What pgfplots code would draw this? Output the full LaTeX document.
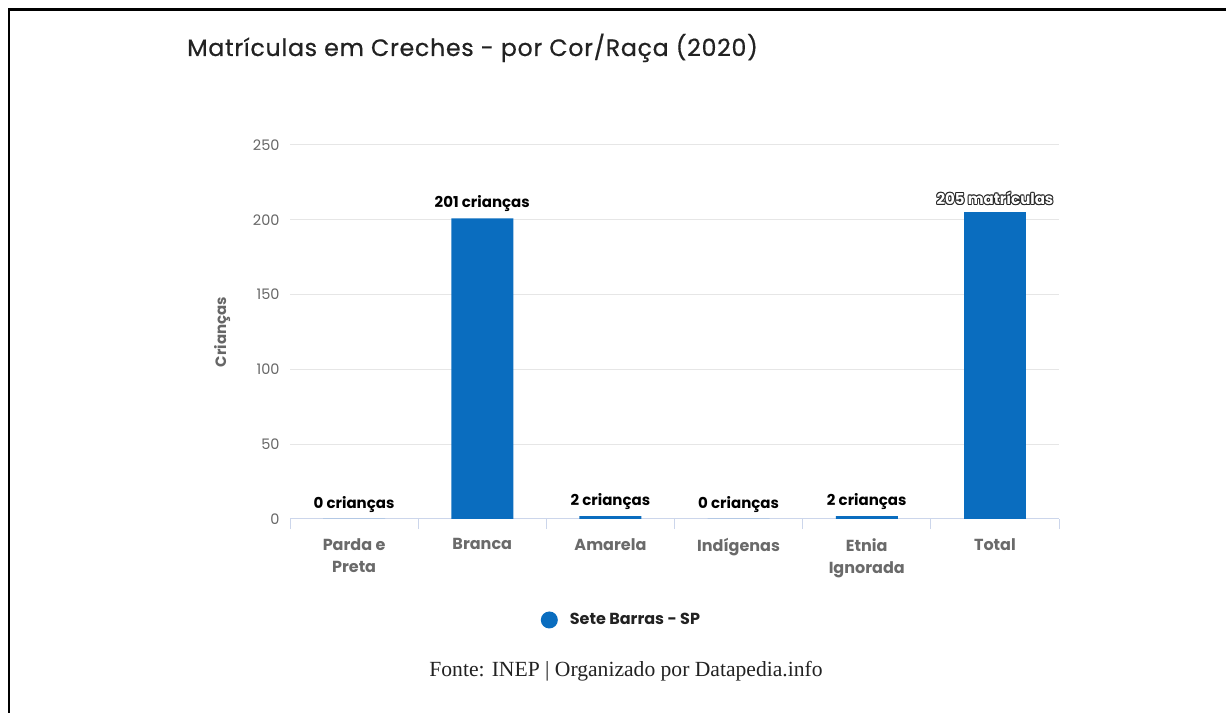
\documentclass[border=0pt]{standalone}
\usepackage{fontspec}
\setmainfont{Poppins}
\newfontfamily\seriffont{Liberation Serif}
\newfontfamily\titlefont[LetterSpace=3,FakeBold=0.6]{Poppins}
\usepackage{pgfplots}
\pgfplotsset{compat=1.18}
\definecolor{barblue}{HTML}{0A6DBF}
\definecolor{gridc}{HTML}{E6E6E6}
\definecolor{axisc}{HTML}{CCD6EB}
\definecolor{labc}{HTML}{666666}
\definecolor{catc}{HTML}{6A6A6A}
\definecolor{titc}{HTML}{222222}
\newcommand\outlined[1]{\leavevmode
  \rlap{\color{black!85}\kern0.9bp#1}%
  \rlap{\color{black!85}\kern-0.9bp#1}%
  \rlap{\color{black!85}\raisebox{0.9bp}{#1}}%
  \rlap{\color{black!85}\raisebox{-0.9bp}{#1}}%
  \rlap{\color{black!85}\kern0.65bp\raisebox{0.65bp}{#1}}%
  \rlap{\color{black!85}\kern-0.65bp\raisebox{0.65bp}{#1}}%
  \rlap{\color{black!85}\kern0.65bp\raisebox{-0.65bp}{#1}}%
  \rlap{\color{black!85}\kern-0.65bp\raisebox{-0.65bp}{#1}}%
  {\color{white}#1}}
\begin{document}
\begin{tikzpicture}
\path[use as bounding box] (0,0) rectangle (1226bp,713bp);
\draw[line width=2.5bp] (9bp,0) -- (9bp,703.5bp) -- (1226bp,703.5bp);
\node[anchor=base west, text=titc, font=\titlefont\fontsize{23.7bp}{28bp}\selectfont, inner sep=0] at (187bp,657bp) {Matrículas em Creches - por Cor/Raça (2020)};
\node[text=titc, font=\seriffont\fontsize{21.6bp}{24bp}\selectfont] at (626bp,42bp) {Fonte: INEP | Organizado por Datapedia.info};
\begin{axis}[
  at={(290bp,194bp)}, anchor=south west,
  scale only axis, width=769bp, height=374bp,
  xmin=-0.5, xmax=5.5, ymin=0, ymax=250,
  axis x line=bottom, axis y line=left,
  x axis line style={draw=axisc, line width=1bp, -},
  y axis line style={draw=none},
  ybar, bar width=62bp,
  xtick={0,...,5},
  xticklabels={Parda e\\Preta, Branca, Amarela, Indígenas, Etnia\\Ignorada, Total},
  x tick label style={align=center, font=\fontsize{16bp}{22bp}\selectfont\bfseries, text=catc, yshift=-16bp},
  minor xtick={-0.5,0.5,...,5.5},
  major tick length=0bp, minor tick length=10bp, tick align=outside,
  minor x tick style={draw=axisc, line width=1bp},
  ytick={0,50,...,250},
  ymajorgrids=true, y grid style={draw=gridc, line width=1bp},
  y tick label style={font=\fontsize{14.5bp}{16bp}\selectfont, text=labc, xshift=-7bp},
  /pgf/number format/assume math mode=true,
  ylabel={Crianças},
  ylabel style={at={(axis description cs:-0.0884,0.5)}, anchor=center, font=\fontsize{15bp}{18bp}\selectfont\bfseries, text=labc},
  legend style={at={(0.431,-0.27)}, anchor=center, draw=none, fill=none, font=\fontsize{16bp}{20bp}\selectfont\bfseries, text=titc,
    /tikz/every odd column/.append style={column sep=10bp}},
  legend image code/.code={\fill[barblue] (0bp,0bp) circle (8.5bp);},
  every node near coord/.append style={font=\fontsize{15bp}{18bp}\selectfont\bfseries, text=black, inner sep=3bp, yshift=3.5bp},
]
\addplot[fill=barblue, draw=none, bar shift=0pt,
  nodes near coords={\pgfmathprintnumber{\pgfplotspointmeta}~crianças}]
  coordinates {(0,0) (1,201) (2,2) (3,0) (4,2)};
\addlegendentry{Sete Barras - SP}
\addplot[fill=barblue, draw=none, bar shift=0pt, forget plot,
  nodes near coords={\outlined{205 matrículas}}]
  coordinates {(5,205)};
\end{axis}
\end{tikzpicture}
\end{document}
